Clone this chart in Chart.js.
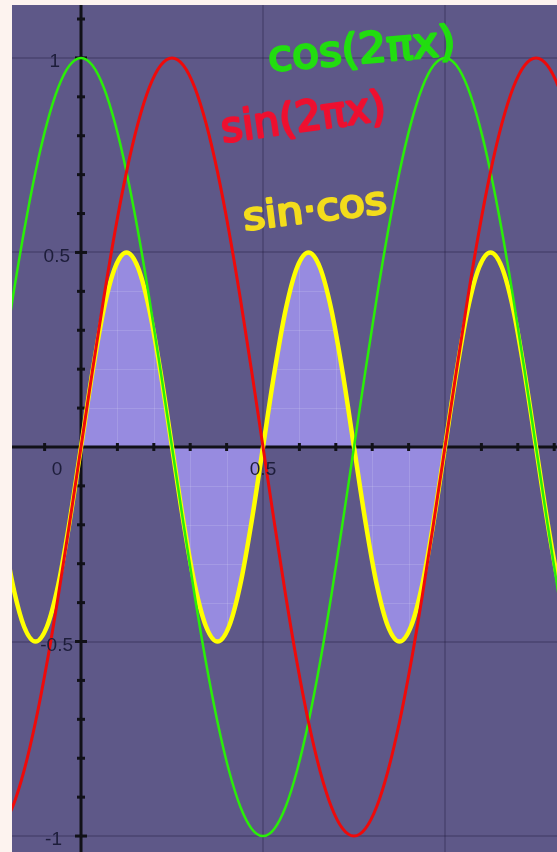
<!DOCTYPE html>
<html>
<head>
<meta charset="utf-8">
<script src="https://cdn.jsdelivr.net/npm/chart.js@4.4.1/dist/chart.umd.min.js"></script>
<style>
    html, body { margin: 0; padding: 0; background: #fdf3ef; }
    #wrap { width: 557px; height: 852px; }
</style>
</head>
<body>
<div id="wrap"><canvas id="waveChart" width="557" height="852"></canvas></div>
<script>
// sample positions (x) read along the axis, step 1/32
const xValues = [-0.21875, -0.1875, -0.15625, -0.125, -0.09375, -0.0625, -0.03125,
    0, 0.03125, 0.0625, 0.09375, 0.125, 0.15625, 0.1875, 0.21875,
    0.25, 0.28125, 0.3125, 0.34375, 0.375, 0.40625, 0.4375, 0.46875,
    0.5, 0.53125, 0.5625, 0.59375, 0.625, 0.65625, 0.6875, 0.71875,
    0.75, 0.78125, 0.8125, 0.84375, 0.875, 0.90625, 0.9375, 0.96875,
    1, 1.03125, 1.0625, 1.09375, 1.125, 1.15625, 1.1875, 1.21875,
    1.25, 1.28125, 1.3125, 1.34375];

// sin(2πx)
const sinValues = [-0.981, -0.924, -0.831, -0.707, -0.556, -0.383, -0.195,
    0, 0.195, 0.383, 0.556, 0.707, 0.831, 0.924, 0.981,
    1, 0.981, 0.924, 0.831, 0.707, 0.556, 0.383, 0.195,
    0, -0.195, -0.383, -0.556, -0.707, -0.831, -0.924, -0.981,
    -1, -0.981, -0.924, -0.831, -0.707, -0.556, -0.383, -0.195,
    0, 0.195, 0.383, 0.556, 0.707, 0.831, 0.924, 0.981,
    1, 0.981, 0.924, 0.831];

// cos(2πx)
const cosValues = [0.195, 0.383, 0.556, 0.707, 0.831, 0.924, 0.981,
    1, 0.981, 0.924, 0.831, 0.707, 0.556, 0.383, 0.195,
    0, -0.195, -0.383, -0.556, -0.707, -0.831, -0.924, -0.981,
    -1, -0.981, -0.924, -0.831, -0.707, -0.556, -0.383, -0.195,
    0, 0.195, 0.383, 0.556, 0.707, 0.831, 0.924, 0.981,
    1, 0.981, 0.924, 0.831, 0.707, 0.556, 0.383, 0.195,
    0, -0.195, -0.383, -0.556];

// sin·cos
const prodValues = [-0.191, -0.354, -0.462, -0.5, -0.462, -0.354, -0.191,
    0, 0.191, 0.354, 0.462, 0.5, 0.462, 0.354, 0.191,
    0, -0.191, -0.354, -0.462, -0.5, -0.462, -0.354, -0.191,
    0, 0.191, 0.354, 0.462, 0.5, 0.462, 0.354, 0.191,
    0, -0.191, -0.354, -0.462, -0.5, -0.462, -0.354, -0.191,
    0, 0.191, 0.354, 0.462, 0.5, 0.462, 0.354, 0.191,
    0, -0.191, -0.354, -0.462];

// shaded part of sin·cos runs from x = 0 to x = 1
const shadeFrom = 0;
const shadeTo = 1;

const yTickValues = [1, 0.5, -0.5, -1];
const yTickLabels = ['1', '0.5', '-0.5', '-1'];
const xTickValues = [0, 0.5];
const xTickLabels = ['0', '0.5'];

const noteTexts = ['cos(2πx)', 'sin(2πx)', 'sin·cos'];

const BG = '#5e5888';

function toPoints(ys) {
    return xValues.map((x, i) => ({ x: x, y: ys[i] }));
}

function shadePoints() {
    const pts = [];
    xValues.forEach((x, i) => {
        if (x >= shadeFrom && x <= shadeTo) pts.push({ x: x, y: prodValues[i] });
    });
    return pts;
}

function isMajor(v) {
    return Math.abs(v * 2 - Math.round(v * 2)) < 1e-6;
}

function gridColor(ctx) {
    const v = ctx.tick.value;
    if (Math.abs(v) < 1e-6) return 'rgba(0,0,0,0)';
    return isMajor(v) ? 'rgba(30,25,60,0.25)' : 'rgba(0,0,0,0)';
}

// background of the plotting area
const backdrop = {
    id: 'backdrop',
    beforeDraw(chart) {
        const { ctx, chartArea: a } = chart;
        ctx.save();
        ctx.fillStyle = BG;
        ctx.fillRect(a.left, a.top, a.right - a.left, a.bottom - a.top);
        ctx.restore();
    }
};

// after the shaded region: faint minor grid inside it, then the black axes
const axesPlugin = {
    id: 'axesPlugin',
    afterDatasetDraw(chart, args) {
        if (args.index !== 3) return;
        const { ctx, chartArea: a } = chart;
        const xs = chart.scales.x, ys = chart.scales.y;
        const x0 = xs.getPixelForValue(0), y0 = ys.getPixelForValue(0);

        // minor grid, visible only over the fill
        const pts = args.meta.data;
        ctx.save();
        ctx.beginPath();
        ctx.moveTo(pts[0].x, y0);
        pts.forEach(p => ctx.lineTo(p.x, p.y));
        ctx.lineTo(pts[pts.length - 1].x, y0);
        ctx.closePath();
        ctx.clip();
        ctx.strokeStyle = 'rgba(255,255,255,0.13)';
        ctx.lineWidth = 1;
        for (let k = -2; k <= 13; k++) {
            const px = Math.round(xs.getPixelForValue(k / 10)) + 0.5;
            ctx.beginPath(); ctx.moveTo(px, a.top); ctx.lineTo(px, a.bottom); ctx.stroke();
        }
        for (let k = -10; k <= 11; k++) {
            const py = Math.round(ys.getPixelForValue(k / 10)) + 0.5;
            ctx.beginPath(); ctx.moveTo(a.left, py); ctx.lineTo(a.right, py); ctx.stroke();
        }
        ctx.restore();

        // axes
        ctx.save();
        ctx.beginPath();
        ctx.rect(a.left, a.top, a.right - a.left, a.bottom - a.top);
        ctx.clip();
        ctx.strokeStyle = '#111118';
        ctx.lineWidth = 3;
        ctx.beginPath(); ctx.moveTo(a.left, y0); ctx.lineTo(a.right, y0); ctx.stroke();
        ctx.beginPath(); ctx.moveTo(x0, a.top); ctx.lineTo(x0, a.bottom); ctx.stroke();
        for (let k = -2; k <= 13; k++) {
            if (k === 0) continue;
            const px = xs.getPixelForValue(k / 10);
            const h = (k % 5 === 0) ? 6 : 4;
            ctx.beginPath(); ctx.moveTo(px, y0 - h); ctx.lineTo(px, y0 + h); ctx.stroke();
        }
        for (let k = -10; k <= 11; k++) {
            if (k === 0) continue;
            const py = ys.getPixelForValue(k / 10);
            const w = (k % 5 === 0) ? 6 : 4;
            ctx.beginPath(); ctx.moveTo(x0 - w, py); ctx.lineTo(x0 + w, py); ctx.stroke();
        }
        ctx.restore();
    },
    afterDraw(chart) {
        const { ctx } = chart;
        const xs = chart.scales.x, ys = chart.scales.y;
        const x0 = xs.getPixelForValue(0), y0 = ys.getPixelForValue(0);
        ctx.save();
        ctx.fillStyle = '#1d1d3a';
        ctx.font = '19px "Liberation Sans", Arial, sans-serif';
        ctx.textBaseline = 'middle';
        ctx.textAlign = 'right';
        const yOff = [-21, -11, -8, -19];
        yTickValues.forEach((v, i) => {
            ctx.fillText(yTickLabels[i], x0 + yOff[i], ys.getPixelForValue(v) + 4);
        });
        ctx.textAlign = 'center';
        const xOff = [-24, 0];
        xTickValues.forEach((v, i) => {
            ctx.fillText(xTickLabels[i], xs.getPixelForValue(v) + xOff[i], y0 + 23);
        });

        // hand-written style labels
        function note(text, vx, vy, width, size, angle, color) {
            ctx.save();
            ctx.translate(xs.getPixelForValue(vx), ys.getPixelForValue(vy));
            ctx.rotate(angle * Math.PI / 180);
            ctx.font = size + 'px "DejaVu Sans", sans-serif';
            const m = ctx.measureText(text).width;
            ctx.scale(width / m, 1);
            ctx.textAlign = 'center';
            ctx.textBaseline = 'middle';
            ctx.fillStyle = color;
            ctx.strokeStyle = color;
            ctx.lineWidth = 2.5;
            ctx.lineJoin = 'round';
            ctx.fillText(text, 0, 0);
            ctx.strokeText(text, 0, 0);
            ctx.restore();
        }
        note(noteTexts[0], 0.772, 1.015, 188, 42, -5, '#22dd10');
        note(noteTexts[1], 0.612, 0.84, 166, 42, -8, '#ee1030');
        note(noteTexts[2], 0.643, 0.605, 144, 38, -7, '#f3dc1c');
        ctx.restore();
    }
};

function createWaveChart() {
    const ctx = document.getElementById('waveChart').getContext('2d');
    new Chart(ctx, {
        type: 'line',
        data: {
            datasets: [
                {
                    label: 'sin(2πx)',
                    data: toPoints(sinValues),
                    borderColor: '#ee0a0a',
                    borderWidth: 3,
                    order: 0
                },
                {
                    label: 'cos(2πx)',
                    data: toPoints(cosValues),
                    borderColor: '#2aee08',
                    borderWidth: 2.5,
                    order: 1
                },
                {
                    label: 'sin·cos',
                    data: toPoints(prodValues),
                    borderColor: '#ffff00',
                    borderWidth: 4.5,
                    order: 2
                },
                {
                    label: 'area',
                    data: shadePoints(),
                    borderWidth: 0,
                    borderColor: 'rgba(0,0,0,0)',
                    backgroundColor: '#978be0',
                    fill: 'origin',
                    order: 3
                }
            ]
        },
        options: {
            responsive: false,
            animation: false,
            layout: { padding: { left: 12, top: 5, right: 0, bottom: 0 } },
            elements: {
                point: { radius: 0 },
                line: { cubicInterpolationMode: 'monotone', borderCapStyle: 'round', borderJoinStyle: 'round' }
            },
            plugins: {
                legend: { display: false },
                tooltip: { enabled: false }
            },
            scales: {
                x: {
                    type: 'linear',
                    min: -0.1896,
                    max: 1.3077,
                    ticks: { display: false, stepSize: 0.1, includeBounds: false },
                    grid: { color: gridColor, lineWidth: 2, drawTicks: false },
                    border: { display: false }
                },
                y: {
                    type: 'linear',
                    min: -1.041,
                    max: 1.136,
                    ticks: { display: false, stepSize: 0.1, includeBounds: false },
                    grid: { color: gridColor, lineWidth: 2, drawTicks: false },
                    border: { display: false }
                }
            }
        },
        plugins: [backdrop, axesPlugin]
    });
}

window.addEventListener('load', createWaveChart);
</script>
</body>
</html>
